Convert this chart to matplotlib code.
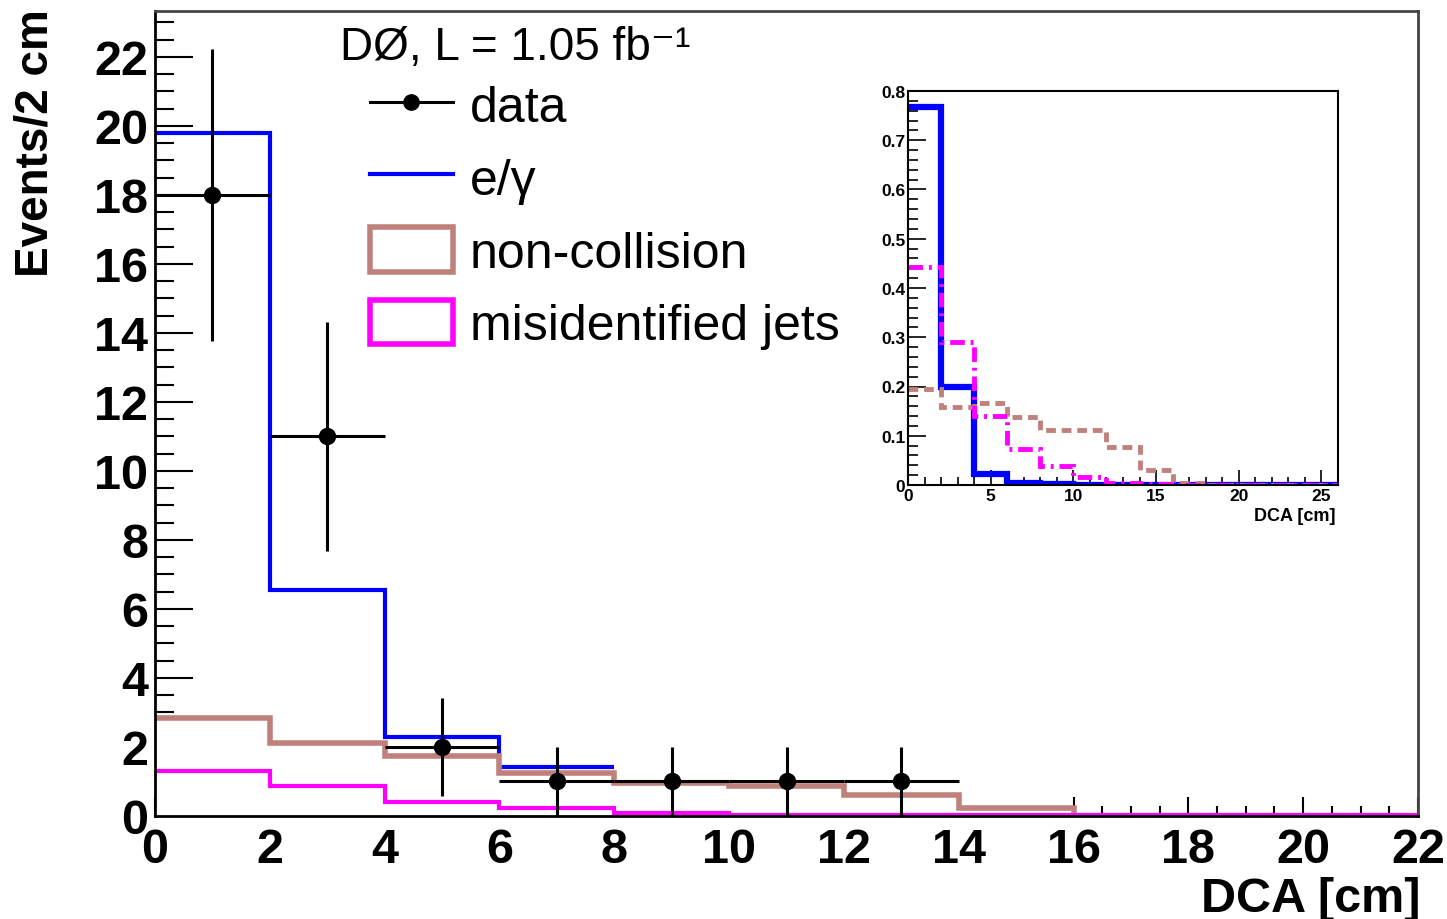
import numpy as np
import matplotlib
matplotlib.use("Agg")
import matplotlib.pyplot as plt
from matplotlib.lines import Line2D
from matplotlib.patches import Patch
from matplotlib.ticker import MultipleLocator

plt.rcParams['font.family'] = ['Liberation Sans', 'DejaVu Sans']
plt.rcParams['mathtext.default'] = 'regular'

# ---- main plot data ----
edges = np.arange(0, 24, 2)                     # 0..22, 11 bins
eg_edges = np.arange(0, 10, 2)                  # e/gamma drawn 0..8
eg_vals = [19.8, 6.55, 2.3, 1.43]
noncoll_vals = [2.85, 2.12, 1.74, 1.25, 0.96, 0.88, 0.6, 0.23, 0.0, 0.0, 0.0]
misid_vals = [1.3, 0.87, 0.41, 0.23, 0.1, 0.02, 0.02, 0.02, 0.02, 0.02, 0.02]

data_x = [1, 3, 5, 7, 9, 11, 13]
data_y = [18, 11, 2, 1, 1, 1, 1]
data_yerr = [4.24, 3.32, 1.41, 1.0, 1.0, 1.0, 1.0]
data_xerr = [1, 1, 1, 1, 1, 1, 1]

# ---- inset data (normalised shapes) ----
in_edges = np.arange(0, 28, 2)                  # 0..26, 13 bins
in_eg = [0.768, 0.2, 0.022, 0.004, 0.002, 0.001, 0, 0, 0, 0, 0, 0, 0]
in_misid = [0.442, 0.29, 0.14, 0.073, 0.038, 0.016, 0.005, 0.002, 0, 0, 0, 0, 0]
in_noncoll = [0.194, 0.158, 0.167, 0.138, 0.111, 0.111, 0.078, 0.031, 0.005, 0, 0, 0, 0]

BLUE = '#0000ff'
BROWN = '#c0817d'
MAGENTA = '#ff00ff'

fig = plt.figure(figsize=(14.47, 9.2), dpi=100)
ax = fig.add_axes([155/1447, 1-817/920, (1418-155)/1447, (817-12)/920])
ax.set_axisbelow(True)

ax.stairs(eg_vals, eg_edges, baseline=None, color=BLUE, lw=3.0, zorder=2)
ax.stairs(noncoll_vals, edges, baseline=0, fill=True, facecolor='white',
          edgecolor='none', zorder=1.5)
ax.stairs(noncoll_vals, edges, baseline=None, color=BROWN, lw=4.0, zorder=2.1)
ax.stairs(misid_vals, edges, baseline=None, color=MAGENTA, lw=3.0, zorder=2.2)
ax.errorbar(data_x, data_y, xerr=data_xerr, yerr=data_yerr, fmt='o',
            color='black', ms=11.5, elinewidth=2.2, capsize=0, zorder=3)

ax.set_xlim(0, 22)
ax.set_ylim(0, 23.33)
ax.xaxis.set_major_locator(MultipleLocator(2))
ax.xaxis.set_minor_locator(MultipleLocator(0.5))
ax.yaxis.set_major_locator(MultipleLocator(2))
ax.yaxis.set_minor_locator(MultipleLocator(0.5))
ax.tick_params(axis='both', which='both', direction='in', top=False, right=False,
               labelsize=35, width=1.5)
ax.tick_params(axis='y', which='major', length=27, pad=5)
ax.tick_params(axis='y', which='minor', length=14)
ax.tick_params(axis='x', which='major', length=14, pad=8)
ax.tick_params(axis='x', which='minor', length=7)
for lab in ax.get_xticklabels() + ax.get_yticklabels():
    lab.set_fontweight('bold')
for s in ['left', 'bottom']:
    ax.spines[s].set_linewidth(2)
    ax.spines[s].set_color('black')
for s in ['top', 'right']:
    ax.spines[s].set_linewidth(2)
    ax.spines[s].set_color('#444444')

ax.set_xlabel('DCA [cm]', loc='right', fontsize=35, fontweight='bold')
ax.xaxis.set_label_coords(1.0016, -0.074)
ax.set_ylabel('Events/2 cm', loc='top', fontsize=33, fontweight='bold')
ax.yaxis.set_label_coords(-0.077, 1.003)

ax.text((340-155)/1263, (817-48)/805, 'DØ, L = 1.05 fb⁻¹', transform=ax.transAxes,
        fontsize=33, ha='left', va='center')

handles = [
    Line2D([0], [0], color='black', lw=2.2, marker='o', ms=11),
    Line2D([0], [0], color=BLUE, lw=3),
    Patch(facecolor='white', edgecolor=BROWN, lw=4),
    Patch(facecolor='white', edgecolor=MAGENTA, lw=4),
]
labels = ['data', 'e/γ', 'non-collision', 'misidentified jets']
leg = ax.legend(handles, labels, loc='upper left',
                bbox_to_anchor=((370-155)/1263, (817-83)/805),
                frameon=False, fontsize=36, handlelength=1.65, handleheight=1.0,
                handletextpad=0.34, labelspacing=0.46, borderpad=0, borderaxespad=0)

# ---- inset ----
ax2 = fig.add_axes([908/1447, 1-486/920, (1338-908)/1447, (486-92)/920])
ax2.stairs(in_noncoll, in_edges, baseline=None, color=BROWN, lw=3.5,
           linestyle=(0, (2.0, 1.2)), zorder=2)
ax2.stairs(in_misid, in_edges, baseline=None, color=MAGENTA, lw=3.5,
           linestyle=(0, (3.0, 1.2, 0.6, 1.2)), zorder=2.1)
ax2.stairs(in_eg, in_edges, baseline=None, color=BLUE, lw=4.5, zorder=1.9)
ax2.set_xlim(0, 26)
ax2.set_ylim(0, 0.8)
ax2.xaxis.set_major_locator(MultipleLocator(5))
ax2.xaxis.set_minor_locator(MultipleLocator(1))
ax2.yaxis.set_major_locator(MultipleLocator(0.1))
ax2.yaxis.set_minor_locator(MultipleLocator(0.02))
ax2.yaxis.set_major_formatter(matplotlib.ticker.FuncFormatter(
    lambda v, p: '0' if abs(v) < 1e-9 else f'{v:.1f}'))
ax2.tick_params(axis='both', which='both', direction='in', top=False, right=False,
                labelsize=12.5, width=1.2)
ax2.tick_params(axis='y', which='major', length=13, pad=2)
ax2.tick_params(axis='y', which='minor', length=7)
ax2.tick_params(axis='x', which='major', length=11, pad=2)
ax2.tick_params(axis='x', which='minor', length=6)
for lab in ax2.get_xticklabels() + ax2.get_yticklabels():
    lab.set_fontweight('bold')
for s in ax2.spines.values():
    s.set_linewidth(1.5)
    s.set_color('black')
ax2.set_xlabel('DCA [cm]', loc='right', fontsize=13, fontweight='bold')
ax2.xaxis.set_label_coords(0.995, -0.055)

fig.savefig('out.png', dpi=100)
